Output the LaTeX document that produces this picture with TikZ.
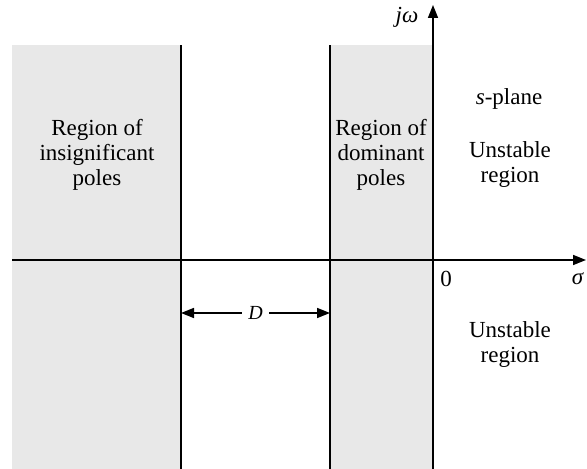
\documentclass[tikz,border=0pt]{standalone}
\usepackage{fontspec}
\setmainfont{Liberation Serif}
\usetikzlibrary{arrows.meta}
\tikzset{
	region/.style={fill=gray!18, draw=none},
	tip/.tip={Triangle[length=6.5pt,width=5pt]},
	axis/.style={thick, -tip},
	lbl/.style={align=center, font=\fontsize{11.5}{12.5}\selectfont},
}
\begin{document}
\begin{tikzpicture}[x=0.5pt, y=0.5pt]
		\useasboundingbox (0,0) rectangle (587,469);
		%shaded regions
		\fill[region] (12,0) rectangle (181,424);
		\fill[region] (330,0) rectangle (433,424);
		\foreach \x in {181, 330}{
			\draw[thick] (\x,0) -- (\x,424);
		}
		
		%axes
		\coordinate (origin) at (433,209);
		\coordinate (wtop) at (433,464);
		\coordinate (wbot) at (433,0);
		\coordinate (sleft) at (12,209);
		\coordinate (sright) at (586,209);
		\draw[axis] (wbot) -- (wtop);
		\draw[axis] (sleft) -- (sright);
		\node[lbl] (jw) at (407,452){\textit{jω}};
		\node[lbl, inner sep=1pt] (sigma) at (578,190){\textit{σ}};
		\node[lbl] (zero) at (446,190){0};
		
		%spacing between the two regions
		\coordinate (dl) at (181,156);
		\coordinate (dr) at (330,156);
		\draw[thick, tip-tip] (dl) -- (dr) node[midway, fill=white, inner xsep=3pt]{\textit{D}};
		
		%labels
		\node[lbl] (insig) at (97,314){Region of\\insignificant\\poles};
		\node[lbl] (dom) at (381,314){Region of\\dominant\\poles};
		\node[lbl] (splane) at (509,370){\textit{s}-plane};
		\node[lbl] (unstup) at (510,304){Unstable\\region};
		\node[lbl] (unstdn) at (510,124){Unstable\\region};
		\end{tikzpicture}
\end{document}
